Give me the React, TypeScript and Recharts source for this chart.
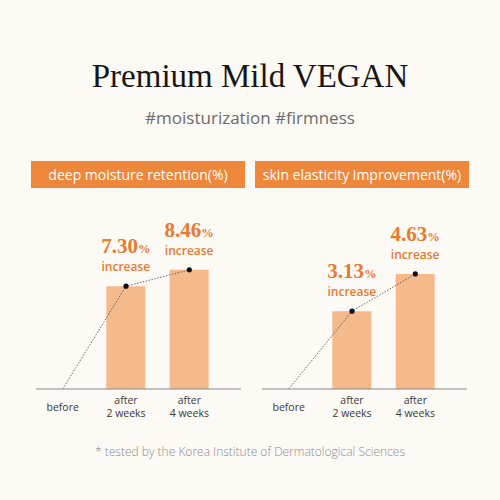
import { ComposedChart, Bar, Line, XAxis, YAxis, LabelList } from "recharts";

// categories on the x axis ("\n" splits a tick into two lines)
const categories = ["before", "after\n2 weeks", "after\n4 weeks"];
// % increase
const moistureValues = [0, 7.3, 8.46];
const elasticityValues = [0, 3.13, 4.63];
const panelTitles = ["deep moisture retention(%)", "skin elasticity improvement(%)"];
const unitWord = "increase";

const BG = "#fdf9f5";
const ORANGE = "#ef873a";
const TEXT_ORANGE = "#ea7a2e";
const BAR = "#f5ba8c";
const SANS = "'Open Sans', 'Noto Sans', sans-serif";
const SERIF = "'Liberation Serif', 'DejaVu Serif', serif";

const CategoryTick = ({ x, y, payload }: any) => {
  const lines: string[] = String(payload.value).split("\n");
  const startY = lines.length === 1 ? y + 22 : y + 15;
  return (
    <text x={x} y={startY} textAnchor="middle" fill="#3a3a3a" fontFamily={SANS} fontSize={10.5}>
      {lines.map((l, i) => (
        <tspan key={i} x={x} dy={i === 0 ? 0 : 13}>
          {l}
        </tspan>
      ))}
    </text>
  );
};

const ValueLabel = (props: any) => {
  const { x, y, width, value } = props;
  if (!value) return null;
  const cx = x + width / 2;
  return (
    <g>
      <text x={cx} y={y - 33} textAnchor="middle" fill={TEXT_ORANGE} fontFamily={SERIF} fontWeight={700} fontSize={21}>
        {Number(value).toFixed(2)}
        <tspan fontSize={12.5}>%</tspan>
      </text>
      <text x={cx} y={y - 15} textAnchor="middle" fill={TEXT_ORANGE} fontFamily={SANS} fontWeight={600} fontSize={12}>
        {unitWord}
      </text>
    </g>
  );
};

const TrendDot = (props: any) => {
  const { cx, cy, index } = props;
  if (index === 0) return <g key={`d-${index}`} />;
  return <circle key={`d-${index}`} cx={cx} cy={cy} r={2.6} fill="#111" />;
};

type PanelProps = { values: number[]; max: number; left: number };

const Panel = ({ values, max, left }: PanelProps) => {
  const data = categories.map((name, i) => ({ name, value: values[i] }));
  return (
    <div style={{ position: "absolute", left, top: 200 }}>
      <ComposedChart width={260} height={230} data={data} margin={{ top: 20, right: 19, left: 36, bottom: 11 }}>
        <XAxis
          dataKey="name"
          interval={0}
          height={30}
          tickLine={false}
          tickSize={0}
          tickMargin={0}
          padding={{ left: -5, right: 20 }}
          axisLine={{ stroke: "#8a8a8a", strokeWidth: 1 }}
          tick={<CategoryTick />}
        />
        <YAxis width={0} domain={[0, max]} tick={false} tickLine={false} axisLine={{ stroke: "#8a8a8a", strokeWidth: 1 }} />
        <Bar dataKey="value" fill={BAR} barSize={39} isAnimationActive={false}>
          <LabelList dataKey="value" content={<ValueLabel />} />
        </Bar>
        <Line
          dataKey="value"
          type="linear"
          stroke="#444"
          strokeWidth={0.8}
          strokeDasharray="1.5 1.5"
          dot={<TrendDot />}
          activeDot={false}
          isAnimationActive={false}
        />
      </ComposedChart>
    </div>
  );
};

const Header = ({ title, left }: { title: string; left: number }) => (
  <div
    style={{
      position: "absolute",
      left,
      top: 161,
      width: 214,
      height: 27,
      background: ORANGE,
      color: "#fff",
      fontFamily: SANS,
      fontSize: 14,
      lineHeight: "27px",
      textAlign: "center",
    }}
  >
    {title}
  </div>
);

export default function App() {
  return (
    <div style={{ position: "absolute", left: 0, top: 0, width: 500, height: 500, background: BG, overflow: "hidden" }}>
      <svg width={500} height={500} style={{ position: "absolute", left: 0, top: 0 }}>
        <text x={250} y={87} textAnchor="middle" fill="#161616" fontFamily={SERIF} fontSize={33}>
          Premium Mild VEGAN
        </text>
        <text x={250} y={124} textAnchor="middle" fill="#6b6b6b" fontFamily={SANS} fontSize={17}>
          #moisturization #firmness
        </text>
        <text x={250} y={456} textAnchor="middle" fill="#8c8c8c" fontFamily={SANS} fontWeight={300} fontSize={12}>
          * tested by the Korea Institute of Dermatological Sciences
        </text>
      </svg>
      <Header title={panelTitles[0]} left={31} />
      <Header title={panelTitles[1]} left={255} />
      <Panel values={moistureValues} max={12} left={0} />
      <Panel values={elasticityValues} max={6.8} left={226} />
    </div>
  );
}
